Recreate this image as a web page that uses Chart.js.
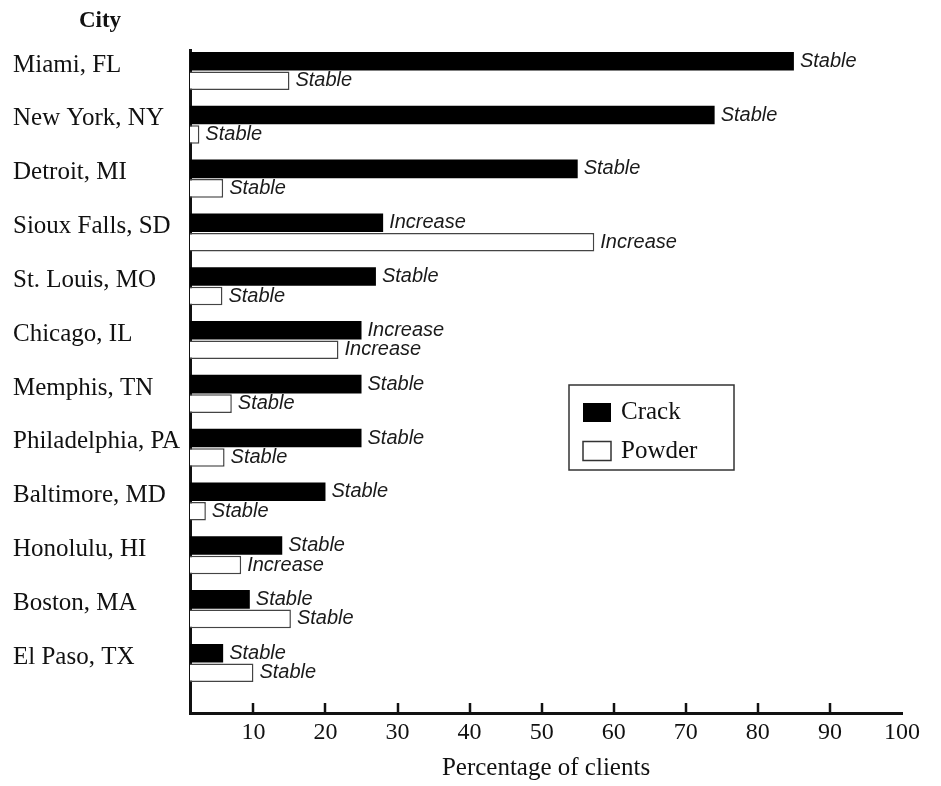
<!DOCTYPE html>
<html>
<head>
<meta charset="utf-8">
<script src="https://cdn.jsdelivr.net/npm/chart.js@4.4.1/dist/chart.umd.min.js"></script>
<style>
  html, body { margin: 0; padding: 0; background: #ffffff; }
  #wrap { width: 941px; height: 786px; }
</style>
</head>
<body>
<div id="wrap"><canvas id="c" width="941" height="786"></canvas></div>
<script>
const cities = ["Miami, FL", "New York, NY", "Detroit, MI", "Sioux Falls, SD", "St. Louis, MO",
  "Chicago, IL", "Memphis, TN", "Philadelphia, PA", "Baltimore, MD", "Honolulu, HI",
  "Boston, MA", "El Paso, TX"];
const crack = [85, 74, 55, 28, 27, 25, 25, 25, 20, 14, 9.5, 5.8];
const powder = [15, 2.5, 5.8, 57.3, 5.7, 21.8, 7, 6, 3.4, 8.3, 15.2, 10];
const crackTrend = ["Stable", "Stable", "Stable", "Increase", "Stable", "Increase",
  "Stable", "Stable", "Stable", "Stable", "Stable", "Stable"];
const powderTrend = ["Stable", "Stable", "Stable", "Increase", "Stable", "Increase",
  "Stable", "Stable", "Stable", "Increase", "Stable", "Stable"];
const xTicks = [10, 20, 30, 40, 50, 60, 70, 80, 90, 100];
const seriesNames = ["Crack", "Powder"];

const SERIF = '"Liberation Serif", "Times New Roman", serif';
const SANS = '"Liberation Sans", Arial, sans-serif';
const INK = '#111111';

const trendLabels = {
  id: 'trendLabels',
  afterDatasetsDraw(chart) {
    const ctx = chart.ctx;
    const trends = [crackTrend, powderTrend];
    ctx.save();
    ctx.font = 'italic 20px ' + SANS;
    ctx.fillStyle = '#1a1a1a';
    ctx.textBaseline = 'middle';
    ctx.textAlign = 'left';
    chart.data.datasets.forEach((ds, d) => {
      const meta = chart.getDatasetMeta(d);
      meta.data.forEach((bar, i) => {
        ctx.fillText(trends[d][i], bar.x + 6, bar.y);
      });
    });
    ctx.restore();
  }
};

const extras = {
  id: 'extras',
  afterDraw(chart) {
    const ctx = chart.ctx;
    const xs = chart.scales.x;
    const area = chart.chartArea;
    ctx.save();
    ctx.strokeStyle = INK;
    ctx.lineWidth = 2.5;
    xTicks.filter(v => v < 100).forEach(v => {
      const px = Math.round(xs.getPixelForValue(v));
      ctx.beginPath();
      ctx.moveTo(px, area.bottom);
      ctx.lineTo(px, area.bottom - 10);
      ctx.stroke();
    });
    ctx.fillStyle = INK;
    ctx.font = 'bold 23px ' + SERIF;
    ctx.textAlign = 'center';
    ctx.textBaseline = 'middle';
    ctx.fillText('City', 100, 21);
    const lx = 569, ly = 385, lw = 165, lh = 85;
    ctx.strokeStyle = '#333333';
    ctx.lineWidth = 1.5;
    ctx.strokeRect(lx, ly, lw, lh);
    const ds = chart.data.datasets;
    const rows = [412.5, 451];
    ds.forEach((d, k) => {
      const sy = rows[k];
      ctx.fillStyle = d.backgroundColor;
      ctx.fillRect(583, sy - 9.5, 28, 19);
      if (k === 1) {
        ctx.strokeStyle = '#333333';
        ctx.lineWidth = 1.5;
        ctx.strokeRect(583, sy - 9.5, 28, 19);
      }
      ctx.fillStyle = INK;
      ctx.font = '25px ' + SERIF;
      ctx.textAlign = 'left';
      ctx.textBaseline = 'middle';
      ctx.fillText(d.label, 621, sy);
    });
    ctx.restore();
  }
};

new Chart(document.getElementById('c'), {
  type: 'bar',
  data: {
    datasets: [
      {
        label: seriesNames[0],
        data: cities.map((c, i) => ({ x: crack[i], y: i })),
        backgroundColor: '#000000',
        borderWidth: 0,
        barPercentage: 0.95,
        categoryPercentage: 0.725
      },
      {
        label: seriesNames[1],
        data: cities.map((c, i) => ({ x: powder[i], y: i })),
        backgroundColor: '#ffffff',
        borderColor: '#444444',
        borderWidth: 1.5,
        borderSkipped: false,
        barPercentage: 0.95,
        categoryPercentage: 0.725
      }
    ]
  },
  options: {
    indexAxis: 'y',
    responsive: false,
    animation: false,
    layout: { padding: { left: 13, top: 50, right: 39, bottom: 0 } },
    plugins: {
      legend: { display: false },
      tooltip: { enabled: false },
      title: { display: false }
    },
    scales: {
      x: {
        type: 'linear',
        position: 'bottom',
        min: 1.2,
        max: 100,
        offset: false,
        afterBuildTicks: (s) => { s.ticks = xTicks.map(v => ({ value: v })); },
        afterFit: (s) => { s.height = 73; },
        grid: { display: false, drawTicks: false, offset: false },
        border: { display: true, color: '#111111', width: 3 },
        ticks: {
          font: { family: SERIF, size: 24 },
          color: INK,
          padding: 5,
          maxRotation: 0,
          autoSkip: false
        },
        title: {
          display: true,
          text: 'Percentage of clients',
          font: { family: SERIF, size: 25 },
          color: INK,
          padding: { top: 0, bottom: 3 }
        }
      },
      y: {
        type: 'linear',
        position: 'left',
        reverse: true,
        min: -0.39,
        max: 11.93,
        offset: false,
        afterBuildTicks: (s) => { s.ticks = cities.map((c, i) => ({ value: i - 0.11 })); },
        afterFit: (s) => { s.width = 177; },
        grid: { display: false, drawTicks: false, offset: false },
        border: { display: true, color: '#111111', width: 3 },
        ticks: {
          font: { family: SERIF, size: 25 },
          color: INK,
          crossAlign: 'far',
          autoSkip: false,
          callback: (v, idx) => cities[idx]
        }
      }
    }
  },
  plugins: [trendLabels, extras]
});
</script>
</body>
</html>
